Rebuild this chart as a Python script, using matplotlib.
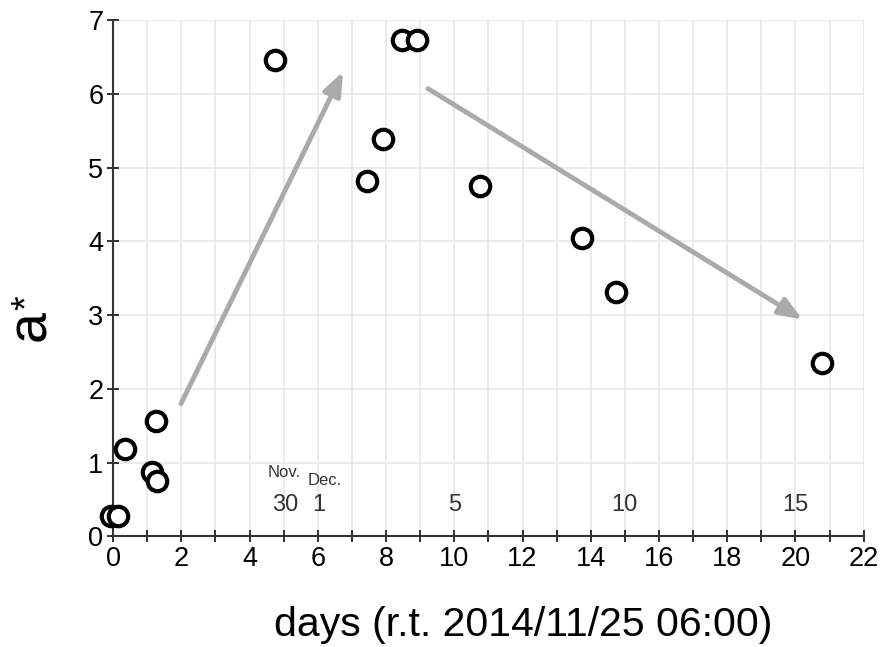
import matplotlib
matplotlib.use("Agg")
import matplotlib.pyplot as plt
import numpy as np

plt.rcParams["font.family"] = ["Liberation Sans", "DejaVu Sans"]

# observations: days since 2014/11/25 06:00 and a*
days = [-0.06, 0.15, 0.35, 1.14, 1.29, 1.26, 4.75, 7.44, 7.91, 8.47, 8.90, 10.75, 13.74, 14.73, 20.77]
a_star = [0.28, 0.28, 1.18, 0.87, 0.75, 1.56, 6.46, 4.82, 5.39, 6.73, 6.73, 4.75, 4.04, 3.31, 2.35]

# trend arrows (start, end) in data units
arrows = [((1.99, 1.80), (6.74, 6.30)), ((9.23, 6.07), (20.21, 2.94))]

# calendar date annotations
date_x = [5.04, 6.03, 10.0, 15.0, 20.0]
date_labels = ["30", "1", "5", "10", "15"]

fig, ax = plt.subplots(figsize=(8.84, 6.47), dpi=100)
fig.subplots_adjust(left=0.128, right=0.977, top=0.969, bottom=0.171)

ax.set_xlim(0, 22)
ax.set_ylim(0, 7)
ax.set_xticks(np.arange(0, 23, 2))
ax.set_xticks(np.arange(0, 23, 1), minor=True)
ax.set_yticks(np.arange(0, 8, 1))

ax.grid(True, which="both", color="#e8e8e8", lw=1.2)
ax.set_axisbelow(True)
for side in ["top", "right"]:
    ax.spines[side].set_visible(False)
for side in ["left", "bottom"]:
    ax.spines[side].set_color("#333333")
    ax.spines[side].set_linewidth(1.5)

ax.tick_params(axis="both", which="both", direction="inout", length=8,
               width=1.3, color="#222222", labelsize=19.5, pad=3)

for (x0, y0), (x1, y1) in arrows:
    ax.annotate("", xy=(x1, y1), xytext=(x0, y0),
                arrowprops=dict(arrowstyle="-|>,head_length=1.4,head_width=0.55",
                                color="#aaaaaa", lw=3.5, shrinkA=0, shrinkB=0),
                zorder=2)

ax.plot(days, a_star, "o", ms=14, mfc="white", mec="black", mew=3,
        clip_on=False, zorder=3)

for x, lab in zip(date_x, date_labels):
    ax.text(x, 0.42, lab, ha="center", va="center", fontsize=17, color="#333333")
ax.text(5.0, 0.86, "Nov.", ha="center", va="center", fontsize=12, color="#333333")
ax.text(6.2, 0.76, "Dec.", ha="center", va="center", fontsize=12, color="#333333")

ax.set_xlabel("days (r.t. 2014/11/25 06:00)", fontsize=29.5, va="top")
ax.xaxis.set_label_coords(0.546, -0.134)

# y label: "a" with a small raised asterisk
ax.set_ylabel("a", fontsize=40)
ax.yaxis.set_label_coords(-0.075, 0.409)
ax.text(-0.114, 0.453, "*", transform=ax.transAxes, rotation=90,
        ha="center", va="center", fontsize=27)

fig.savefig("out.png", dpi=100)
